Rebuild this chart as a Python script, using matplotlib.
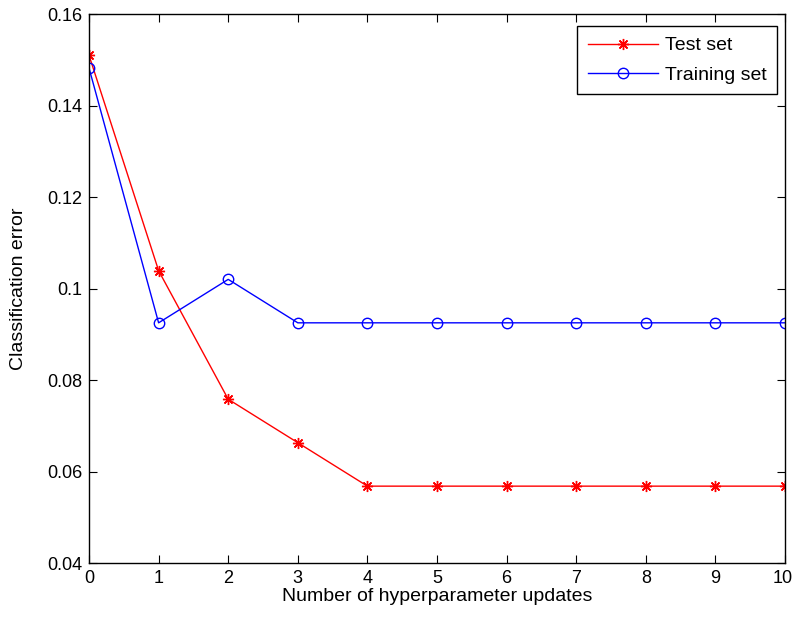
# classification error vs number of hyperparameter updates

import matplotlib
matplotlib.use('Agg')
import matplotlib.pyplot as plt
import matplotlib.transforms as mtransforms

plt.rcParams['font.family'] = ['Liberation Sans', 'DejaVu Sans']

# data
updates = [0, 1, 2, 3, 4, 5, 6, 7, 8, 9, 10]
test_err = [0.151, 0.1039, 0.0758, 0.0663, 0.0568, 0.0568, 0.0568, 0.0568, 0.0568, 0.0568, 0.0568]
train_err = [0.1482, 0.0925, 0.102, 0.0925, 0.0925, 0.0925, 0.0925, 0.0925, 0.0925, 0.0925, 0.0925]
y_ticks = [0.04, 0.06, 0.08, 0.1, 0.12, 0.14, 0.16]
y_labels = ['0.04', '0.06', '0.08', '0.1', '0.12', '0.14', '0.16']

fig = plt.figure(figsize=(7.94, 6.23), dpi=100)
ax = fig.add_axes([0.1121, 0.0963, 0.8766, 0.8812])

# matlab-style asterisk and open circle markers
ax.plot(updates, test_err, color='red', lw=1, marker=(8, 2, 0), ms=8, mew=1,
        label='Test set')
ax.plot(updates, train_err, color='blue', lw=1, marker='o', ms=7.5, mew=1,
        mfc='none', label='Training set')

ax.set_xlim(0, 10)
ax.set_ylim(0.04, 0.16)
ax.set_xticks(updates)
ax.set_yticks(y_ticks)
ax.set_yticklabels(y_labels)
ax.tick_params(direction='in', length=5.5, top=True, right=True, labelsize=13, pad=5)
for s in ax.spines.values():
    s.set_linewidth(1)
# keep the last x label inside the figure, nudged right like the original
last = ax.get_xticklabels()[-1]
last.set_horizontalalignment('right')
last.set_transform(last.get_transform() +
                   mtransforms.ScaledTranslation(8 / 100, 0, fig.dpi_scale_trans))

ax.set_xlabel('Number of hyperparameter updates', fontsize=14, labelpad=1)
ax.set_ylabel('Classification error', fontsize=14, labelpad=14)

leg = ax.legend(loc='upper right', bbox_to_anchor=(0.9885, 0.978), fontsize=14,
                fancybox=False, framealpha=1, edgecolor='black', borderaxespad=0,
                handlelength=3.6, handletextpad=0.35, borderpad=0.55, labelspacing=0.6)
leg.get_frame().set_linewidth(1)

plt.savefig('out.png', dpi=100)
